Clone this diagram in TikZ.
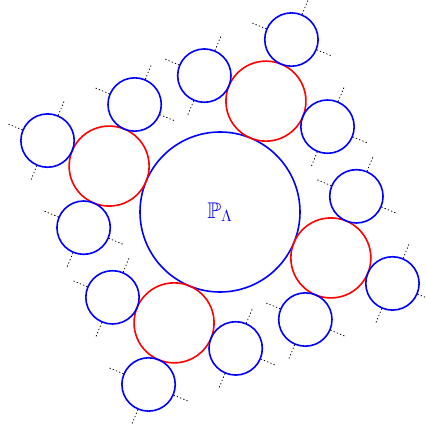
\documentclass[tikz,border=0pt]{standalone}
\usepackage{amsfonts,amsmath,amssymb}
\usetikzlibrary{calc}
\tikzset{
  every picture/.style={line join=round, line cap=round},
  bigdisk/.style={circle, draw=blue, line width=1.2pt, inner sep=0pt, minimum size=120pt,
    text=blue, font=\fontsize{17}{19}\selectfont},
  reddisk/.style={circle, draw=red, line width=1.2pt, inner sep=0pt, minimum size=60pt},
  bluedisk/.style={circle, draw=blue, line width=1.2pt, inner sep=0pt, minimum size=40pt},
  stub/.style={dotted, line width=0.6pt, black},
}

\begin{document}
\begin{tikzpicture}[x=20pt,y=20pt]
\useasboundingbox (-8.25,-8.1) rectangle (7.69,7.95);
\node[bigdisk] (PL) at (0,0) {$\mathbb{P}_\Lambda$};
% four red children, each with three blue grandchildren
\foreach \a [count=\i] in {67.5,157.5,247.5,337.5}{
  \node[reddisk] (red\i) at (\a:4.5) {};
  \foreach \b [count=\j] in {-90,0,90}{
    \node[bluedisk] (sm\i\j) at ($(red\i)+(\a+\b:2.5)$) {};
    \foreach \c in {-90,0,90}{
      \pgfmathsetmacro\d{\a+\b+\c}
      \draw[stub] (sm\i\j.\d) -- ++(\d:0.6);
    }
  }
}
\end{tikzpicture}
\end{document}
